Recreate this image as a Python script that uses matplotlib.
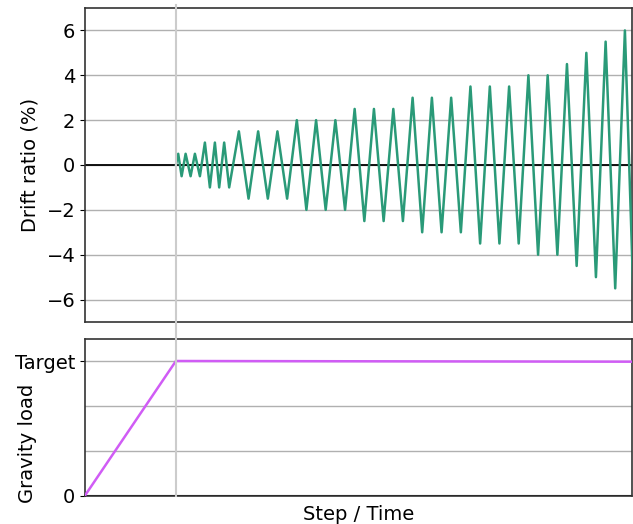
import numpy as np
import matplotlib
matplotlib.use("Agg")
import matplotlib.pyplot as plt
import matplotlib.transforms as mtransforms
from matplotlib.lines import Line2D

# drift protocol: time (step units) and drift ratio (%) at each reversal
drift_t = [91.0, 93.3, 96.7, 100.7, 105.7, 110.0, 115.0,
           120.0, 125.0, 130.0, 134.3, 139.3, 144.3,
           154.0, 163.7, 173.3, 183.0, 192.6, 202.3,
           212.0, 221.6, 231.3, 240.9, 250.6, 260.3,
           269.9, 279.6, 289.2, 298.9, 308.6, 318.2,
           327.9, 337.5, 347.2, 356.9, 366.5, 376.2,
           385.8, 395.5, 405.2, 414.8, 424.5, 434.1,
           443.8, 453.5, 463.1, 472.8, 482.4, 492.1,
           501.8, 511.4, 521.1, 530.7, 540.4, 549.0]
drift_v = [0, 0.5, -0.5, 0.5, -0.5, 0.5, -0.5,
           1.0, -1.0, 1.0, -1.0, 1.0, -1.0,
           1.5, -1.5, 1.5, -1.5, 1.5, -1.5,
           2.0, -2.0, 2.0, -2.0, 2.0, -2.0,
           2.5, -2.5, 2.5, -2.5, 2.5, -2.5,
           3.0, -3.0, 3.0, -3.0, 3.0, -3.0,
           3.5, -3.5, 3.5, -3.5, 3.5, -3.5,
           4.0, -4.0, 4.0, -4.0, 4.5, -4.5,
           5.0, -5.0, 5.5, -5.5, 6.0, -6.0]

# gravity load history (fraction of target)
grav_t = [0, 91.0, 547.5]
grav_v = [0, 1.0, 0.995]

t_end = 547.5
t_grav = 91.0

green = "#2a9a78"
pink = "#d05cf5"

plt.rcParams['font.family'] = ['DejaVu Sans']
plt.rcParams['font.size'] = 14

fig = plt.figure(figsize=(6.33, 5.24), dpi=100)
W, H = 633, 524
ax1 = fig.add_axes([85/W, 1-322/H, (632-85)/W, (322-8)/H])
ax2 = fig.add_axes([85/W, 1-495.5/H, (632-85)/W, (495.5-339)/H])

for ax in (ax1, ax2):
    for s in ax.spines.values():
        s.set_color('#333333')
        s.set_linewidth(1.2)
    ax.set_xlim(0, t_end)
    ax.set_xticks([])
    ax.grid(axis='y', color='#b0b0b0', lw=1)
    ax.set_axisbelow(True)

ax1.plot(drift_t, drift_v, color=green, lw=1.8, zorder=3)
ax1.axhline(0, color='black', lw=1.3, zorder=2)
ax1.set_ylim(-7, 7)
ax1.set_yticks([-6, -4, -2, 0, 2, 4, 6])
ax1.set_ylabel('Drift ratio (%)')
ax1.yaxis.set_label_coords(-0.083, 0.5)

ax2.plot(grav_t, grav_v, color=pink, lw=1.8, zorder=3)
ax2.axhline(0, color='black', lw=1.5, zorder=2)
ax2.set_ylim(0, 1.1636)
ax2.set_yticks([0, 1])
ax2.set_yticklabels(['0', 'Target'])
ax2.set_yticks([1/3, 2/3], minor=True)
ax2.tick_params(axis='y', which='minor', length=0)
ax2.grid(axis='y', which='minor', color='#b0b0b0', lw=1)
ax2.set_ylabel('Gravity load')
ax2.yaxis.set_label_coords(-0.087, 0.335)
ax2.set_xlabel('Step / Time', labelpad=7)

# marker for end of gravity loading, spanning both panels
trans = mtransforms.blended_transform_factory(ax2.transData, fig.transFigure)
fig.add_artist(Line2D([t_grav, t_grav], [1-5/H, 1-495.5/H], transform=trans,
                      color='#cccccc', lw=1.5, zorder=0.5))

fig.savefig('out.png', dpi=100)
